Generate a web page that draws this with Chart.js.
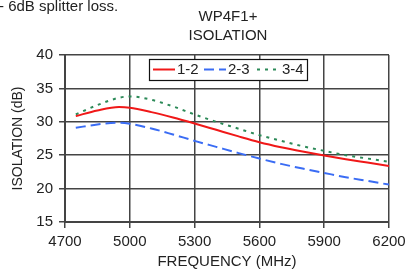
<!DOCTYPE html>
<html>
<head>
<meta charset="utf-8">
<script src="https://cdn.jsdelivr.net/npm/chart.js@4.4.0/dist/chart.umd.min.js"></script>
<style>
  html, body { margin: 0; padding: 0; background: #fff; }
  #wrap { width: 405px; height: 271px; position: relative; }
</style>
</head>
<body>
<div id="wrap"><canvas id="my-chart"></canvas></div>
<script>
// frequency points (MHz)
var freq = [4750, 4850, 4950, 5000, 5100, 5200, 5300, 5400, 5500, 5600, 5700, 5800, 5900, 6000, 6100, 6200];
// isolation (dB) per port pair
var iso12 = [30.85, 31.7, 32.2, 32.1, 31.45, 30.65, 29.75, 28.8, 27.85, 26.95, 26.2, 25.55, 24.95, 24.4, 23.9, 23.4];
var iso23 = [29.1, 29.6, 29.85, 29.7, 29.0, 28.1, 27.15, 26.25, 25.35, 24.5, 23.7, 23.0, 22.35, 21.7, 21.15, 20.6];
var iso34 = [31.1, 32.5, 33.6, 33.8, 33.3, 32.3, 31.1, 30.0, 29.0, 28.0, 27.15, 26.35, 25.65, 25.0, 24.5, 24.0];
var seriesNames = ['1-2', '2-3', '3-4'];
var xTicks = [4700, 5000, 5300, 5600, 5900, 6200];
var yTicks = [15, 20, 25, 30, 35, 40];

function pts(ys) {
  var out = [];
  for (var i in freq) {
    out.push({x: freq[i], y: ys[i]});
  }
  return out;
}

var FONT = 'Liberation Sans, Arial, sans-serif';

// titles and note drawn on the canvas
var textPlugin = {
  id: 'texts',
  afterDraw: function(chart) {
    var ctx = chart.ctx;
    var a = chart.chartArea;
    ctx.save();
    ctx.fillStyle = '#222';
    ctx.font = '15px ' + FONT;
    ctx.textBaseline = 'middle';
    ctx.textAlign = 'left';
    ctx.fillText('- 6dB splitter loss.', -1, 7);
    ctx.textAlign = 'center';
    var cx = (a.left + a.right) / 2 + 1;
    ctx.fillText('WP4F1+', cx, 17);
    ctx.fillText('ISOLATION', cx, 36);
    ctx.restore();
  }
};

// legend box sitting inside the plot
var legendPlugin = {
  id: 'boxLegend',
  afterDatasetsDraw: function(chart) {
    var ctx = chart.ctx;
    var x0 = 149, y0 = 59, w = 158, h = 21;
    ctx.save();
    ctx.fillStyle = '#fff';
    ctx.fillRect(x0, y0, w, h);
    ctx.strokeStyle = '#111';
    ctx.lineWidth = 1.2;
    ctx.strokeRect(x0 + 0.5, y0 + 0.5, w, h);
    var items = [[153, 177], [204, 228], [257, 282]];
    var ly = y0 + 10.5;
    ctx.font = '15px ' + FONT;
    ctx.textBaseline = 'middle';
    ctx.textAlign = 'left';
    chart.data.datasets.forEach(function(ds, i) {
      ctx.strokeStyle = ds.borderColor;
      ctx.lineWidth = 2;
      ctx.setLineDash(ds.borderDash || []);
      ctx.beginPath();
      ctx.moveTo(items[i][0], ly);
      ctx.lineTo(items[i][0] + 22, ly);
      ctx.stroke();
      ctx.setLineDash([]);
      ctx.fillStyle = '#222';
      ctx.fillText(ds.label, items[i][1], ly + 0.5);
    });
    ctx.restore();
  }
};

var chartdata = {
  datasets: [
    {
      label: seriesNames[0],
      data: pts(iso12),
      borderColor: '#f01818',
      borderWidth: 2,
      pointRadius: 0,
      fill: false,
      cubicInterpolationMode: 'monotone'
    },
    {
      label: seriesNames[1],
      data: pts(iso23),
      borderColor: '#3a6cf4',
      borderWidth: 2,
      borderDash: [10, 5],
      pointRadius: 0,
      fill: false,
      cubicInterpolationMode: 'monotone'
    },
    {
      label: seriesNames[2],
      data: pts(iso34),
      borderColor: '#2c8a58',
      borderWidth: 2,
      borderDash: [3, 5],
      pointRadius: 0,
      fill: false,
      cubicInterpolationMode: 'monotone'
    }
  ]
};

var ctx = document.getElementById('my-chart');

var LineGraph = new Chart(ctx, {
  type: 'line',
  data: chartdata,
  plugins: [legendPlugin, textPlugin],
  options: {
    responsive: true,
    maintainAspectRatio: false,
    animation: false,
    layout: { padding: { top: 55, right: 16, bottom: 0, left: 0 } },
    plugins: {
      legend: { display: false },
      tooltip: { enabled: false }
    },
    scales: {
      x: {
        type: 'linear',
        min: 4700,
        max: 6200,
        afterBuildTicks: function(scale) {
          scale.ticks = xTicks.map(function(v) { return {value: v}; });
        },
        afterFit: function(scale) {
          scale.height = 49;
          scale.paddingLeft = 0;
          scale.paddingRight = 0;
        },
        ticks: {
          color: '#222', font: { family: FONT, size: 15 }, padding: 5, maxRotation: 0,
          callback: function(v) { return String(v); }
        },
        grid: { color: '#444', lineWidth: 1.5, tickLength: 6 },
        border: { color: '#444', width: 2 },
        title: { display: true, text: 'FREQUENCY (MHz)', color: '#222', font: { family: FONT, size: 15 }, padding: { top: 0, bottom: 0 } }
      },
      y: {
        min: 15,
        max: 40,
        afterBuildTicks: function(scale) {
          scale.ticks = yTicks.map(function(v) { return {value: v}; });
        },
        afterFit: function(scale) {
          scale.width = 65;
          scale.paddingTop = 0;
          scale.paddingBottom = 0;
        },
        ticks: { color: '#222', font: { family: FONT, size: 15 }, padding: 6 },
        grid: { color: '#444', lineWidth: 1.5, tickLength: 6 },
        border: { color: '#444', width: 2 },
        title: { display: true, text: 'ISOLATION (dB)', color: '#222', font: { family: FONT, size: 14 }, padding: { top: 10, bottom: 0 } }
      }
    }
  }
});
</script>
</body>
</html>
